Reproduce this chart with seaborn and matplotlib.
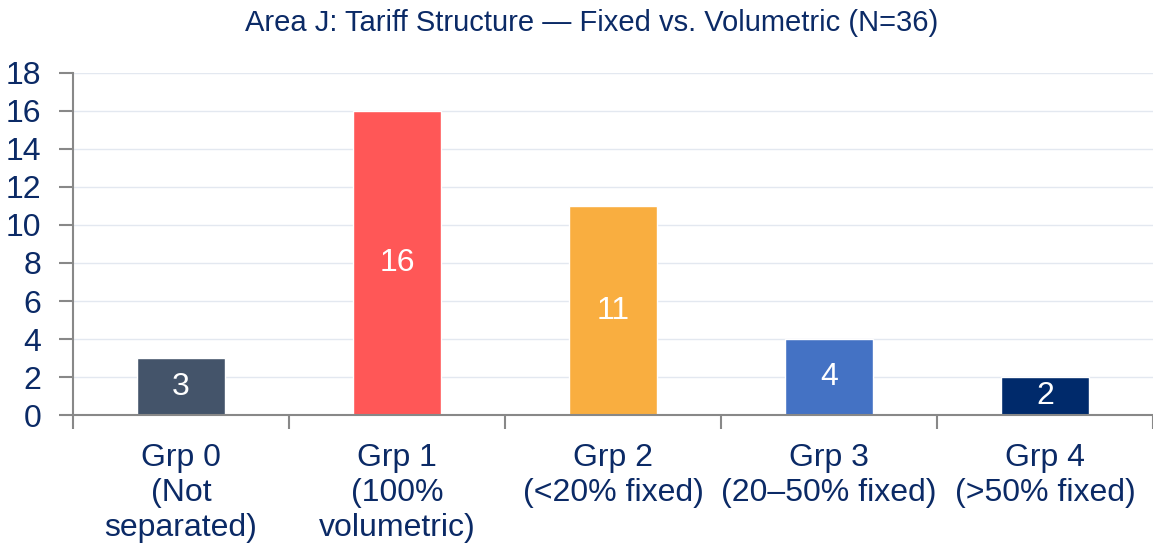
import numpy as np
import pandas as pd
import matplotlib
matplotlib.use('Agg')
import matplotlib.pyplot as plt
import seaborn as sns

# chart data
groups = ['Grp 0\n(Not\nseparated)', 'Grp 1\n(100%\nvolumetric)', 'Grp 2\n(<20% fixed)',
          'Grp 3\n(20\u201350% fixed)', 'Grp 4\n(>50% fixed)']
counts = [3, 16, 11, 4, 2]
bar_colors = ['#44546A', '#FF5757', '#F9AE40', '#4472C4', '#002A6B']

navy = '#0B2A66'

sns.set_style('white')
plt.rcParams['font.family'] = ['Liberation Sans', 'DejaVu Sans']

df = pd.DataFrame({'group': groups, 'count': counts})

fig = plt.figure(figsize=(11.53, 5.43), dpi=100)
ax = fig.add_axes([0.0633, 0.2357, 0.9367, 0.6299])

sns.barplot(data=df, x='group', y='count', hue='group', palette=bar_colors,
            width=0.405, saturation=1, legend=False, ax=ax)

for c in ax.containers:
    ax.bar_label(c, label_type='center', color='white', fontsize=23)

ax.set_xlim(-0.5, 4.5)
ax.set_ylim(0, 18)
ax.set_yticks(np.arange(0, 19, 2))
ax.tick_params(axis='y', labelsize=23, labelcolor=navy, color='#888888',
               length=10, width=1.5, direction='out', left=True, pad=13)
ax.set_xticks(range(len(groups)))
ax.set_xticklabels(groups, linespacing=1.22)
ax.tick_params(axis='x', which='major', length=0, labelsize=23, labelcolor=navy, pad=20)
ax.set_xticks(np.arange(-0.5, 5, 1), minor=True)
ax.tick_params(axis='x', which='minor', length=10, width=1.5, color='#888888',
               direction='out', bottom=True)

ax.grid(axis='y', color='#E3E8F0', linewidth=1)
ax.set_axisbelow(True)
for s in ['top', 'right']:
    ax.spines[s].set_visible(False)
for s in ['left', 'bottom']:
    ax.spines[s].set_color('#888888')
    ax.spines[s].set_linewidth(1.5)

ax.set_xlabel('')
ax.set_ylabel('')
fig.text(0.513, 0.957, 'Area J: Tariff Structure \u2014 Fixed vs. Volumetric (N=36)',
         ha='center', va='center', fontsize=21, color=navy)

fig.savefig('out.png', dpi=100)
